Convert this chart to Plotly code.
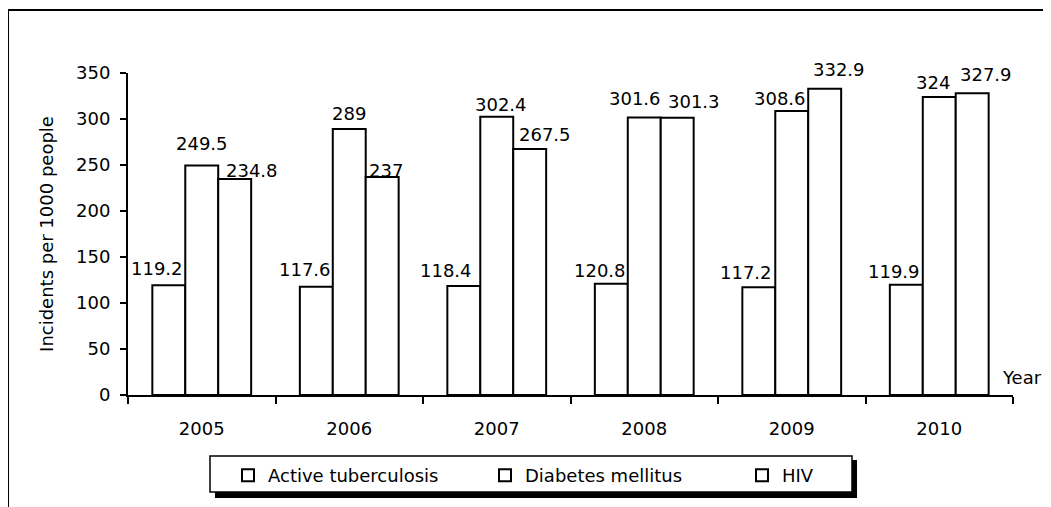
import plotly.graph_objects as go

years = ["2005", "2006", "2007", "2008", "2009", "2010"]
tuberculosis = [119.2, 117.6, 118.4, 120.8, 117.2, 119.9]
diabetes = [249.5, 289, 302.4, 301.6, 308.6, 324]
hiv = [234.8, 237, 267.5, 301.3, 332.9, 327.9]
series_names = ["Active tuberculosis", "Diabetes mellitus", "HIV"]

# label nudges in pixels (style only): horizontal and vertical offsets from bar top-centre
label_dx = [
    [-12, -11, -18, -11, -13, -12],
    [0, 0, 4, -9, -12, -6],
    [17, 4, 15, 17, 14, 14],
]
label_dy = [
    [17, 17, 16, 13, 15, 13],
    [22, 16, 12, 19, 13, 14],
    [8, 6, 14, 16, 19, 19],
]

# page body has an 8px margin; figure coordinates below are page coordinates - 8
W, H = 1043, 499
L, R, T, B = 120, 38, 65, 112
FONT = "DejaVu Sans"
FS = 18
BARGAP = 0.33

series_vals = [tuberculosis, diabetes, hiv]

fig = go.Figure()
for name, vals in zip(series_names, series_vals):
    fig.add_trace(go.Bar(
        x=years, y=vals, name=name,
        marker=dict(color="white", line=dict(color="black", width=2)),
        cliponaxis=False,
    ))

pw = W - L - R
ph = H - T - B
cat_px = pw / len(years)
bar_px = cat_px * (1 - BARGAP) / len(series_vals)


def px_x(p):
    return (p - L) / pw


def px_y(p):
    return (H - B - p) / ph


annotations = []
for i, vals in enumerate(series_vals):
    for j, v in enumerate(vals):
        annotations.append(dict(
            x=j, y=v, xref="x", yref="y", text=f"{v:g}", showarrow=False,
            xanchor="center", yanchor="middle",
            xshift=(i - 1) * bar_px + label_dx[i][j], yshift=label_dy[i][j],
            font=dict(family=FONT, size=FS, color="black"),
        ))
annotations.append(dict(
    text="Year", xref="paper", yref="paper", x=px_x(992), y=px_y(369), xanchor="left", yanchor="middle",
    showarrow=False, font=dict(family=FONT, size=FS, color="black"),
))

shapes = [
    # outer frame
    dict(type="line", xref="paper", yref="paper", x0=px_x(0), x1=px_x(1060), y0=px_y(2), y1=px_y(2),
         line=dict(color="black", width=2)),
    dict(type="line", xref="paper", yref="paper", x0=px_x(0), x1=px_x(0), y0=px_y(2), y1=px_y(520),
         line=dict(color="black", width=2)),
    # legend shadow
    dict(type="rect", xref="paper", yref="paper", x0=px_x(207), x1=px_x(849), y0=px_y(452), y1=px_y(490),
         fillcolor="black", line=dict(width=0), layer="above"),
    # legend box
    dict(type="rect", xref="paper", yref="paper", x0=px_x(202), x1=px_x(844), y0=px_y(448), y1=px_y(484),
         fillcolor="white", line=dict(color="black", width=1.5), layer="above"),
]

fig.update_layout(
    width=W, height=H,
    margin=dict(l=L, r=R, t=T, b=B, pad=0),
    paper_bgcolor="white", plot_bgcolor="white",
    font=dict(family=FONT, size=FS, color="black"),
    barmode="group", bargap=BARGAP, bargroupgap=0,
    showlegend=True,
    legend=dict(
        orientation="h", x=px_x(220), xanchor="left", y=px_y(449), yanchor="top",
        bgcolor="rgba(0,0,0,0)", borderwidth=0,
        font=dict(family=FONT, size=FS, color="black"),
        entrywidth=212, entrywidthmode="pixels",
        itemsizing="constant",
    ),
    xaxis=dict(
        type="category", range=[-0.5, len(years) - 0.5], showline=True, linecolor="black", linewidth=2,
        ticks="outside", tickson="boundaries", ticklen=7, tickcolor="black", tickwidth=2,
        showgrid=False, zeroline=False, ticklabelstandoff=16,
        tickfont=dict(family=FONT, size=FS, color="black"),
    ),
    yaxis=dict(
        range=[0, 350], dtick=50, showline=True, linecolor="black", linewidth=2,
        ticks="outside", ticklen=6, tickcolor="black", tickwidth=2,
        showgrid=False, zeroline=False, ticklabelstandoff=6,
        tickfont=dict(family=FONT, size=FS, color="black"),
        title=dict(text="Incidents per 1000 people", font=dict(family=FONT, size=FS, color="black"), standoff=18),
    ),
    shapes=shapes,
    annotations=annotations,
)

fig.write_html("out.html")
